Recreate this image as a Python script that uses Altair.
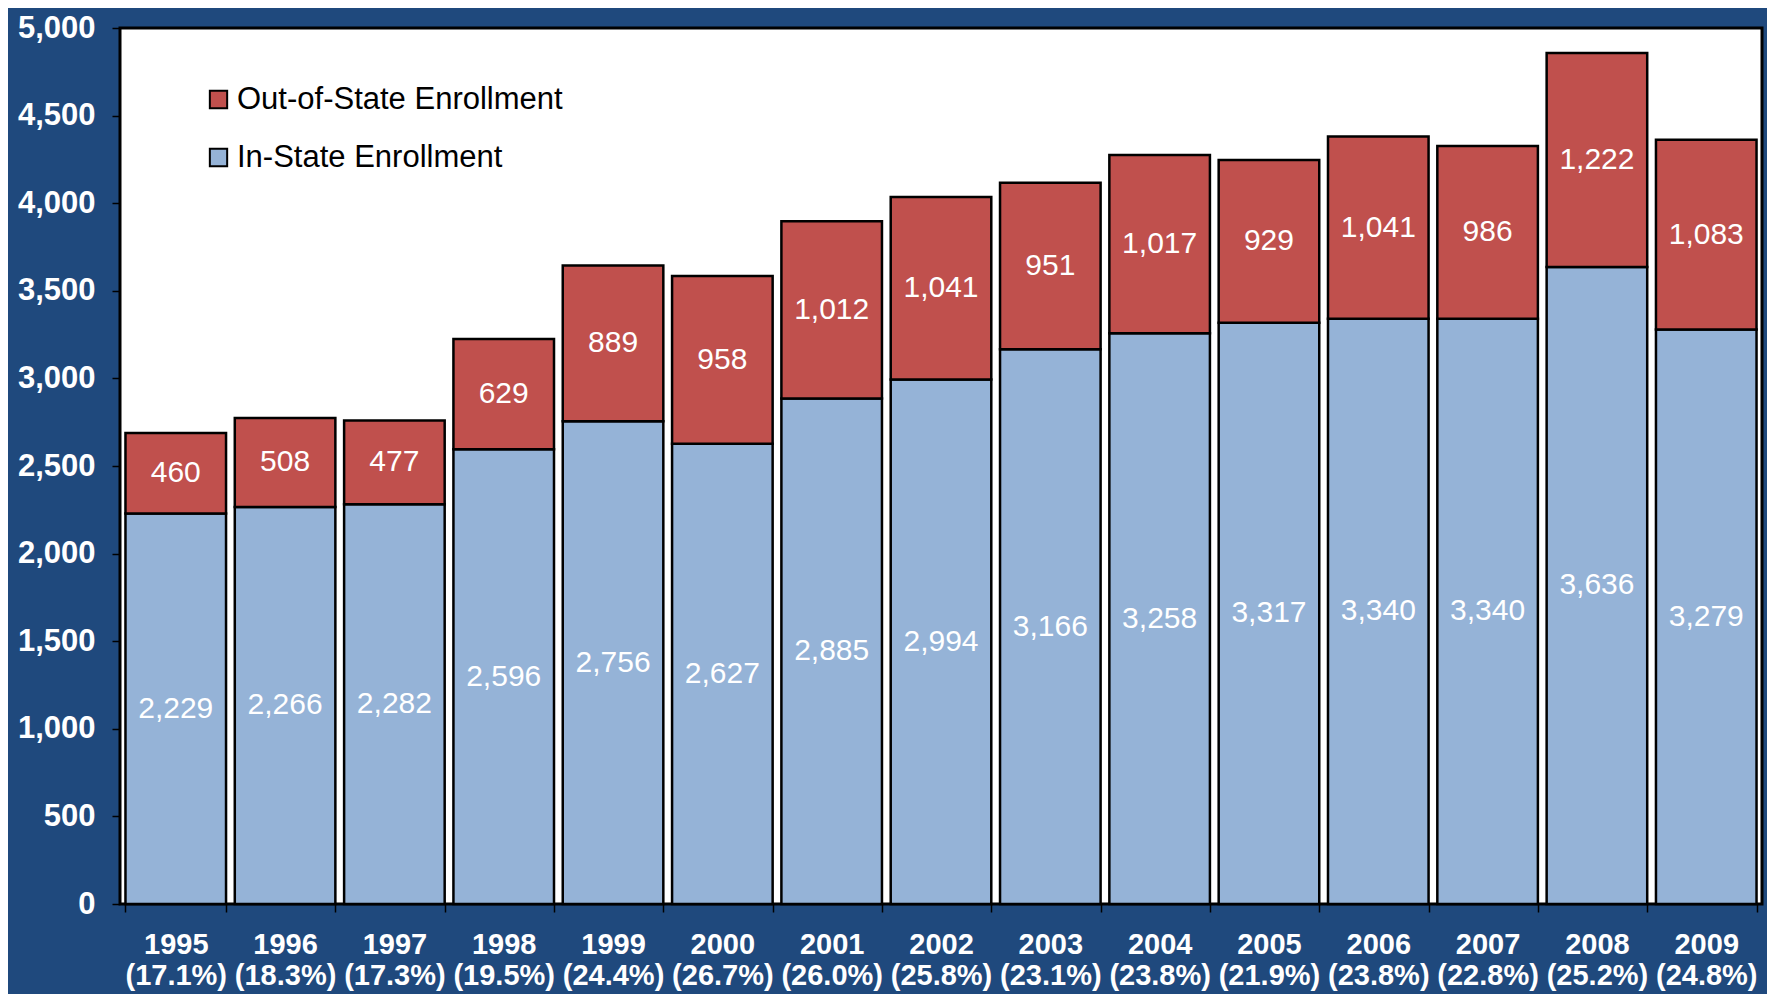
import altair as alt
import pandas as pd

years = ["1995", "1996", "1997", "1998", "1999", "2000", "2001", "2002",
         "2003", "2004", "2005", "2006", "2007", "2008", "2009"]
pct_labels = ["17.1%", "18.3%", "17.3%", "19.5%", "24.4%", "26.7%", "26.0%", "25.8%",
              "23.1%", "23.8%", "21.9%", "23.8%", "22.8%", "25.2%", "24.8%"]
in_state = [2229, 2266, 2282, 2596, 2756, 2627, 2885, 2994,
            3166, 3258, 3317, 3340, 3340, 3636, 3279]
out_state = [460, 508, 477, 629, 889, 958, 1012, 1041,
             951, 1017, 929, 1041, 986, 1222, 1083]
y_ticks = [0, 500, 1000, 1500, 2000, 2500, 3000, 3500, 4000, 4500, 5000]

OUT_NAME = "Out-of-State Enrollment"
IN_NAME = "In-State Enrollment"
RED = "#C0504D"
BLUE = "#95B3D7"
BG = "#1F497D"
FONT = "Liberation Sans"

cats = [f"{y}\n({p})" for y, p in zip(years, pct_labels)]

rows = []
for c, i, o in zip(cats, in_state, out_state):
    rows.append({"cat": c, "series": IN_NAME, "value": i, "order": 0})
    rows.append({"cat": c, "series": OUT_NAME, "value": o, "order": 1})
df = pd.DataFrame(rows)

base = alt.Chart(df).transform_stack(
    stack="value", groupby=["cat"], as_=["y0", "y1"],
    sort=[alt.SortField("order", order="ascending")]
).transform_calculate(mid="(datum.y0 + datum.y1) / 2")

x_scale = alt.Scale(paddingInner=0.08, paddingOuter=0.05)
y_scale = alt.Scale(domain=[0, 5000], nice=False)

x_axis = alt.Axis(
    labelExpr="split(datum.label, '\\n')",
    labelAngle=0, labelColor="white", labelFont=FONT, labelFontSize=29,
    labelFontWeight="bold", labelLineHeight=31, labelPadding=18,
    tickColor="black", tickSize=8, tickWidth=1.5, tickBand="extent",
    domain=False, grid=False,
)
y_axis = alt.Axis(
    values=y_ticks, labelExpr="format(datum.value, ',')",
    labelColor="white", labelFont=FONT, labelFontSize=31,
    labelFontWeight="bold", labelPadding=17,
    tickColor="black", tickSize=8, tickWidth=1.5,
    domain=False, grid=False,
)

bars = base.mark_bar(stroke="black", strokeWidth=2.5).encode(
    x=alt.X("cat:N", sort=cats, title=None, scale=x_scale, axis=x_axis),
    y=alt.Y("y0:Q", title=None, scale=y_scale, axis=y_axis),
    y2="y1:Q",
    color=alt.Color(
        "series:N",
        scale=alt.Scale(domain=[OUT_NAME, IN_NAME], range=[RED, BLUE]),
        legend=alt.Legend(
            title=None, orient="none", legendX=83, legendY=56,
            symbolType="square", symbolSize=300, symbolStrokeColor="black",
            symbolStrokeWidth=2, symbolOpacity=1,
            labelFont=FONT, labelFontSize=31, labelColor="black",
            labelOffset=3, labelLimit=800, rowPadding=26, padding=0,
        ),
    ),
)

labels = base.mark_text(
    color="white", font=FONT, fontSize=30, baseline="middle", align="center"
).encode(
    x=alt.X("cat:N", sort=cats, title=None, scale=x_scale, axis=x_axis),
    y=alt.Y("mid:Q", title=None, scale=y_scale, axis=y_axis),
    text=alt.Text("value:Q", format=","),
)

chart = alt.layer(bars, labels).properties(
    width=1642, height=876,
    padding={"left": 112, "top": 20, "right": 5, "bottom": 90},
    autosize=alt.AutoSizeParams(type="none"),
    background=BG,
).configure_view(fill="white", stroke="black", strokeWidth=3)

chart.save("out.html", embed_options={"renderer": "svg", "actions": False})
